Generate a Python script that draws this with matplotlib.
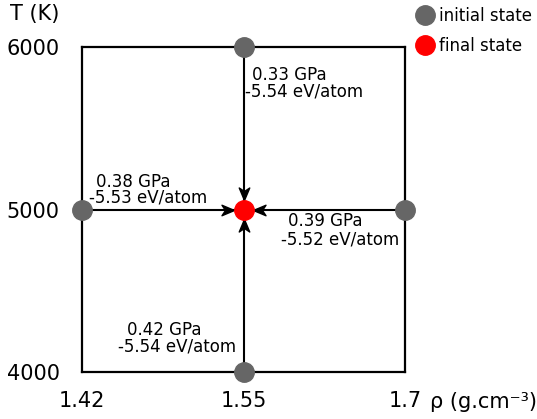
import numpy as np
import matplotlib.pyplot as plt
from matplotlib.lines import Line2D
from matplotlib.path import Path
from matplotlib.markers import MarkerStyle
from matplotlib.transforms import Affine2D, offset_copy

# state points: (rho index, T) ; rho positions are evenly spaced
rho_labels = ['1.42', '1.55', '1.7']
T_values = [4000, 5000, 6000]

initial_rho = [1, 0, 2, 1]
initial_T = [6000, 5000, 5000, 4000]
final_rho = 1
final_T = 5000

pressures = ['0.33 GPa', '0.38 GPa', '0.39 GPa', '0.42 GPa']
energies = ['-5.54 eV/atom', '-5.53 eV/atom', '-5.52 eV/atom', '-5.54 eV/atom']

# label anchors (data coords): pressure line, energy line
p_pos = [(1.053, 5828), (0.087, 5169), (1.276, 4929), (0.279, 4258)]
e_pos = [(1.009, 5729), (0.043, 5071), (1.232, 4818), (0.223, 4154)]

gray = '#666666'
ms = 14

fig = plt.figure(figsize=(5.37, 4.19), dpi=100)
ax = fig.add_axes([82/537, 1 - 372/419, (405-82)/537, (372-47)/419])
ax.set_xlim(0, 2)
ax.set_ylim(4000, 6000)

for s in ax.spines.values():
	s.set_linewidth(1.6)

# notched arrow head, tip at origin pointing +x
head = Path([(0, 0), (-1, 0.42), (-0.72, 0), (-1, -0.42), (0, 0)],
			[Path.MOVETO, Path.LINETO, Path.LINETO, Path.LINETO, Path.CLOSEPOLY])

for x0, y0 in zip(initial_rho, initial_T):
	ax.plot([x0, final_rho], [y0, final_T], color='black', lw=1.5, zorder=3)
	dx = np.sign(final_rho - x0)
	dy = np.sign(final_T - y0)
	ang = np.degrees(np.arctan2(dy, dx))
	r = ms / 2  # stop at the edge of the final-state marker
	trans = offset_copy(ax.transData, fig, x=-dx * r, y=-dy * r, units='points')
	ax.plot([final_rho], [final_T], ls='', color='black', markersize=18,
			marker=MarkerStyle(head, transform=Affine2D().rotate_deg(ang)),
			transform=trans, zorder=4)

ax.plot(initial_rho, initial_T, 'o', color=gray, markersize=ms, clip_on=False, zorder=5)
ax.plot([final_rho], [final_T], 'o', color='red', markersize=ms, clip_on=False, zorder=6)

for p, e, pp, ep in zip(pressures, energies, p_pos, e_pos):
	ax.text(pp[0], pp[1], p, fontsize=12, ha='left', va='center')
	ax.text(ep[0], ep[1], e, fontsize=12, ha='left', va='center')

ax.set_xticks([0, 1, 2])
ax.set_xticklabels(rho_labels, fontsize=15)
ax.set_yticks(T_values)
ax.set_yticklabels([str(t) for t in T_values], fontsize=15)
ax.tick_params(length=0)
ax.tick_params(axis='x', pad=14)
ax.tick_params(axis='y', pad=16)

fig.text(10/537, 1 - 14/419, 'T (K)', fontsize=15, ha='left', va='center')
fig.text(430/537, 1 - 402/419, 'ρ (g.cm⁻³)', fontsize=15, ha='left', va='center')

handles = [
	Line2D([], [], marker='o', ls='', color=gray, markersize=ms, label='initial state'),
	Line2D([], [], marker='o', ls='', color='red', markersize=ms, label='final state'),
]
fig.legend(handles=handles, loc='upper left', bbox_to_anchor=(408/537, 1 - 0.5/419),
		   frameon=False, fontsize=12, handletextpad=0.25, handlelength=1.2,
		   labelspacing=0.7, borderaxespad=0)

fig.savefig('out.png', dpi=100)
